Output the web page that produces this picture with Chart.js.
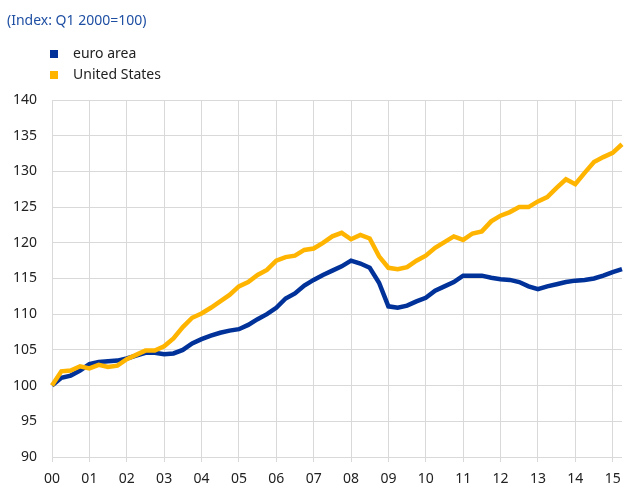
<!DOCTYPE html>
<html>
<head>
<meta charset="utf-8">
<script src="https://cdn.jsdelivr.net/npm/chart.js@4"></script>
<style>
  html, body { margin: 0; padding: 0; background: #fff; }
  #wrap { position: relative; width: 631px; height: 499px; font-family: "Noto Sans", sans-serif; }
  #title { position: absolute; left: 7px; top: 10px; font-size: 14px; color: #1f4fa3; }
  .leg { position: absolute; left: 50px; font-size: 14px; color: #222; height: 20px; line-height: 20px; }
  .leg i { display: inline-block; width: 8px; height: 8px; margin-right: 15px; vertical-align: 0px; }
  canvas { position: absolute; left: 0; top: 0; }
</style>
</head>
<body>
<div id="wrap">
  <canvas id="lineChart" width="631" height="499"></canvas>
  <div id="title">(Index: Q1 2000=100)</div>
  <div class="leg" style="top:43px"><i style="background:#003299"></i>euro area</div>
  <div class="leg" style="top:64px"><i style="background:#ffb400"></i>United States</div>
</div>
<script>
// quarters Q1 2000 .. Q2 2015
var years = ["00", "01", "02", "03", "04", "05", "06", "07", "08", "09", "10", "11", "12", "13", "14", "15"];
var quarters = [];
years.forEach(function (y) {
  ["Q1", "Q2", "Q3", "Q4"].forEach(function (q) { quarters.push(y + q); });
});
quarters = quarters.slice(0, 62);

var euroArea = [
  100, 101.1, 101.4, 102.1,
  103.0, 103.3, 103.4, 103.5,
  103.8, 104.2, 104.6, 104.6,
  104.4, 104.5, 105.0, 105.9,
  106.5, 107.0, 107.4, 107.7,
  107.9, 108.5, 109.3, 110.0,
  110.9, 112.2, 112.9, 114.0,
  114.8, 115.5, 116.1, 116.7,
  117.5, 117.1, 116.5, 114.4,
  111.1, 110.9, 111.2, 111.8,
  112.3, 113.3, 113.9, 114.5,
  115.4, 115.4, 115.4, 115.1,
  114.9, 114.8, 114.5, 113.9,
  113.5, 113.9, 114.2, 114.5,
  114.7, 114.8, 115.0, 115.4,
  115.9, 116.3
];
var unitedStates = [
  100, 102.0, 102.1, 102.7,
  102.4, 102.9, 102.6, 102.8,
  103.7, 104.3, 104.9, 104.9,
  105.5, 106.6, 108.2, 109.5,
  110.1, 110.9, 111.8, 112.7,
  113.9, 114.5, 115.5, 116.2,
  117.5, 118.0, 118.2, 119.0,
  119.2, 120.0, 120.9, 121.4,
  120.5, 121.1, 120.6, 118.1,
  116.5, 116.3, 116.6, 117.5,
  118.2, 119.3, 120.1, 120.9,
  120.4, 121.3, 121.6, 123.0,
  123.8, 124.3, 125.0, 125.0,
  125.8, 126.4, 127.7, 128.9,
  128.2, 129.8, 131.3, 132.0,
  132.6, 133.8
];

var gridColor = "#d9d9d9";

new Chart("lineChart", {
  type: "line",
  data: {
    labels: quarters,
    datasets: [
      {
        label: "euro area",
        data: euroArea,
        borderColor: "#003299",
        borderWidth: 4.5,
        pointRadius: 0,
        fill: false,
        order: 1,
      },
      {
        label: "United States",
        data: unitedStates,
        borderColor: "#ffb400",
        borderWidth: 4.5,
        pointRadius: 0,
        fill: false,
        order: 0,
      },
    ],
  },
  options: {
    responsive: false,
    animation: false,
    layout: { padding: { top: 100, left: 0, right: 0, bottom: 0 } },
    plugins: {
      legend: { display: false },
      tooltip: { enabled: false },
    },
    scales: {
      x: {
        type: "category",
        offset: false,
        border: { display: false },
        grid: {
          color: function (ctx) { return ctx.index % 4 === 0 ? gridColor : "rgba(0,0,0,0)"; },
          lineWidth: 1,
          tickLength: 5,
        },
        ticks: {
          autoSkip: false,
          maxRotation: 0,
          minRotation: 0,
          padding: 9,
          color: "#222",
          font: { family: "Noto Sans", size: 14 },
          callback: function (v, i) { return i % 4 === 0 ? quarters[i].slice(0, 2) : ""; },
        },
        afterFit: function (s) { s.height = 42; },
      },
      y: {
        min: 90,
        max: 140,
        border: { display: false },
        grid: { color: gridColor, lineWidth: 1, drawTicks: false },
        ticks: {
          stepSize: 5,
          padding: 15,
          color: "#222",
          font: { family: "Noto Sans", size: 14 },
        },
        afterFit: function (s) { s.width = 52; },
      },
    },
  },
});
</script>
</body>
</html>
